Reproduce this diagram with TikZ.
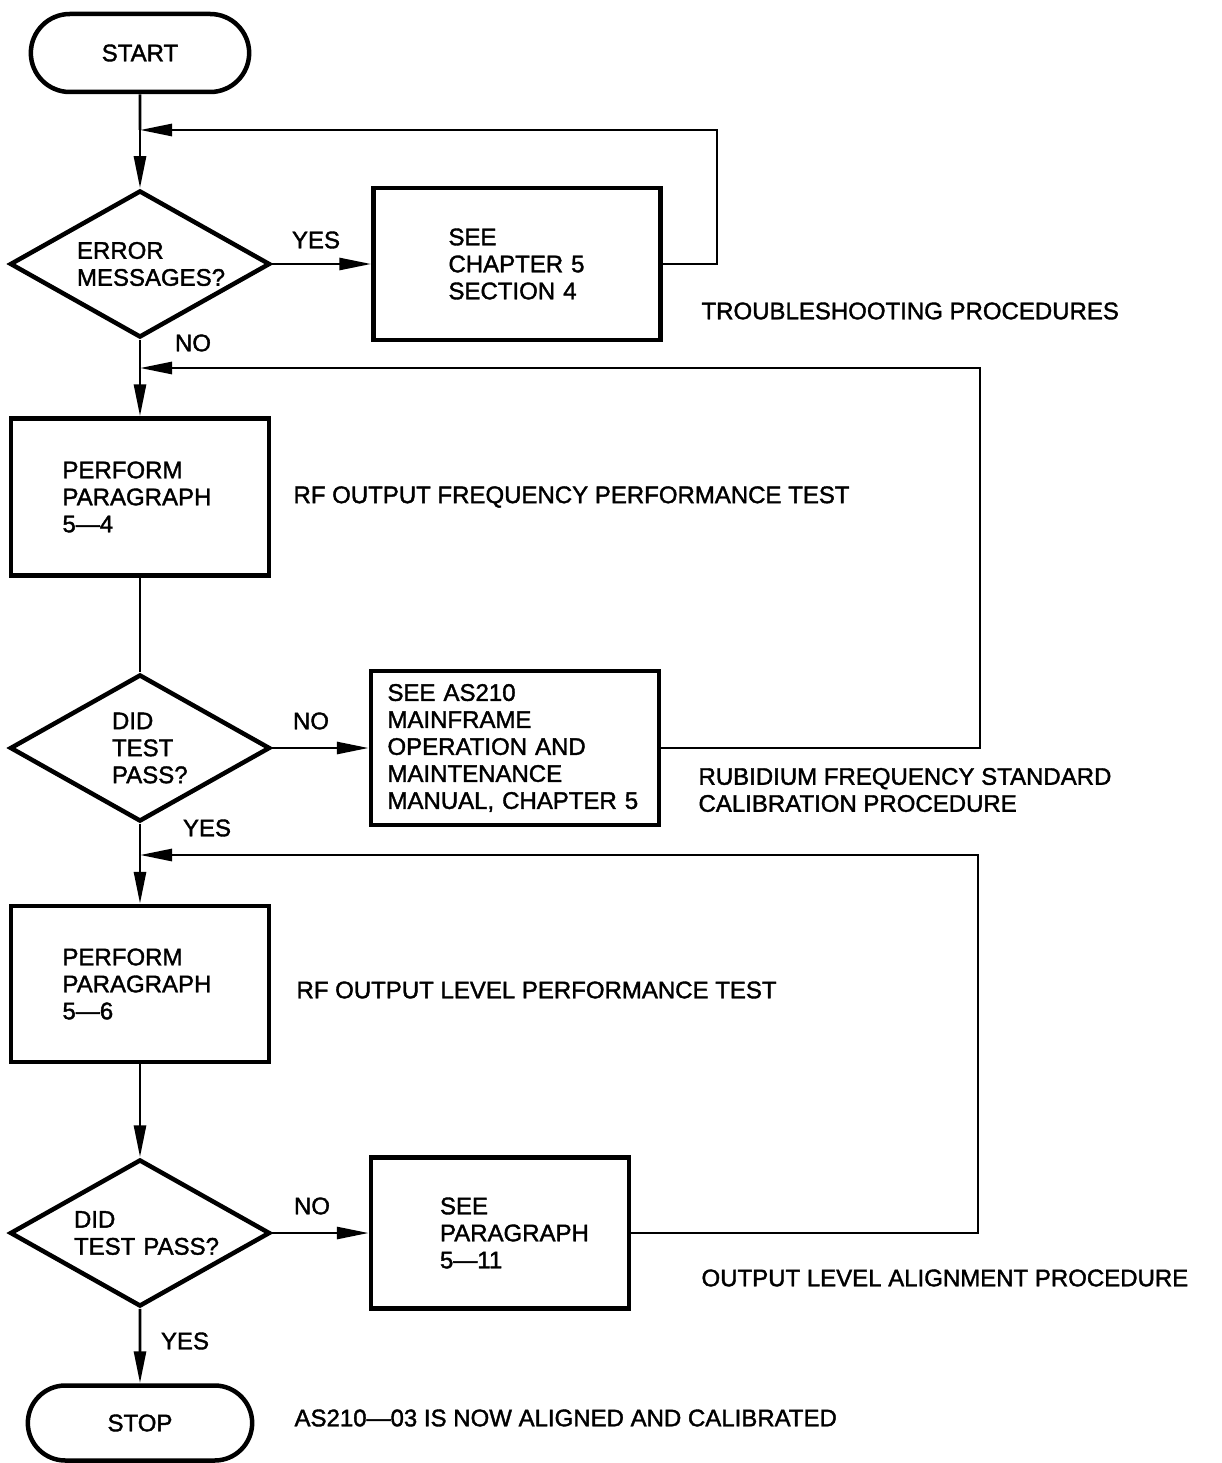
\documentclass[tikz,border=0pt]{standalone}
\usepackage{fontspec}
\setmainfont{Liberation Sans}
\newfontfamily\heavy{Liberation Sans}[FakeBold=1.6]
\usetikzlibrary{shapes.geometric,shapes.misc,arrows.meta}
\begin{document}
\begin{tikzpicture}[x=1pt, y=-1pt, every node/.style={font=\heavy\fontsize{24}{27}\selectfont},
  term/.style={rounded rectangle, draw, line width=4.5pt, minimum width=225pt, minimum height=78pt},
  dec/.style={diamond, draw, line width=4.5pt, aspect=1.77, inner sep=0pt, minimum width=260pt, minimum height=147pt, align=left},
  proc/.style={rectangle, draw, line width=4.5pt, align=left},
  flow/.style={line width=2.8pt, -{Triangle[length=32pt,width=12pt]}},
  plain/.style={line width=2.8pt},
  note/.style={anchor=west, align=left}]
\useasboundingbox (0,0) rectangle (1221,1463);
% main column
\node[term] (start) at (140,53) {START};
\node[dec, text width=126pt] (err) at (140,264) {ERROR\\MESSAGES?};
\node[proc, minimum width=287pt, minimum height=152pt, text width=137pt] (ch5) at (517,264) {SEE\\CHAPTER~5\\SECTION~4};
\node[proc, minimum width=258pt, minimum height=157pt, text width=155pt] (p54) at (140,497) {PERFORM\\PARAGRAPH\\5—4};
\node[dec, text width=56pt] (pass1) at (140,748) {DID\\TEST\\PASS?};
\node[proc, minimum width=288pt, minimum height=154pt, text width=255pt] (manual) at (515,748) {SEE~AS210\\MAINFRAME\\OPERATION~AND\\MAINTENANCE\\MANUAL,~CHAPTER~5};
\node[proc, minimum width=258pt, minimum height=156pt, text width=155pt] (p56) at (140,984) {PERFORM\\PARAGRAPH\\5—6};
\node[dec, text width=132pt] (pass2) at (140,1233) {DID\\TEST~PASS?};
\node[proc, minimum width=258pt, minimum height=151pt, text width=120pt] (p511) at (500,1233) {SEE\\PARAGRAPH\\5—11};
\node[term, minimum width=231pt, minimum height=75pt] (stop) at (140,1423) {STOP};
% yes / no
\node (yes1) at (316,240) {YES};
\node (no1) at (193,343) {NO};
\node (no2) at (311,721) {NO};
\node (yes2) at (207,828) {YES};
\node (no3) at (312,1206) {NO};
\node (yes3) at (185,1341) {YES};
% side notes
\node[note] (trouble) at (698,311) {TROUBLESHOOTING PROCEDURES};
\node[note] (rffreq) at (290,497) {RF OUTPUT FREQUENCY PERFORMANCE TEST};
\node[note] (rubid) at (695,790) {RUBIDIUM FREQUENCY STANDARD\\CALIBRATION PROCEDURE};
\node[note] (rflevel) at (293,990) {RF OUTPUT LEVEL PERFORMANCE TEST};
\node[note] (align) at (698,1278) {OUTPUT LEVEL ALIGNMENT PROCEDURE};
\node[note] (done) at (291,1418) {AS210—03 IS NOW ALIGNED AND CALIBRATED};
% junctions and return corners
\coordinate (j1) at (140,130);
\coordinate (j2) at (140,368);
\coordinate (j3) at (140,855);
\coordinate (r1) at (717,130);
\coordinate (r2) at (980,368);
\coordinate (r3) at (978,855);
% connectors
\draw[plain] (start) -- (j1);
\draw[flow] (j1) -- (err);
\draw[flow] (err) -- (ch5);
\draw[flow] (ch5.east) -| (r1) -- (j1);
\draw[plain] (err) -- (j2);
\draw[flow] (j2) -- (p54);
\draw[plain] (p54) -- (pass1);
\draw[flow] (pass1) -- (manual);
\draw[flow] (manual.east) -| (r2) -- (j2);
\draw[plain] (pass1) -- (j3);
\draw[flow] (j3) -- (p56);
\draw[flow] (p56) -- (pass2);
\draw[flow] (pass2) -- (p511);
\draw[flow] (p511.east) -| (r3) -- (j3);
\draw[flow] (pass2) -- (stop);
\end{tikzpicture}
\end{document}
